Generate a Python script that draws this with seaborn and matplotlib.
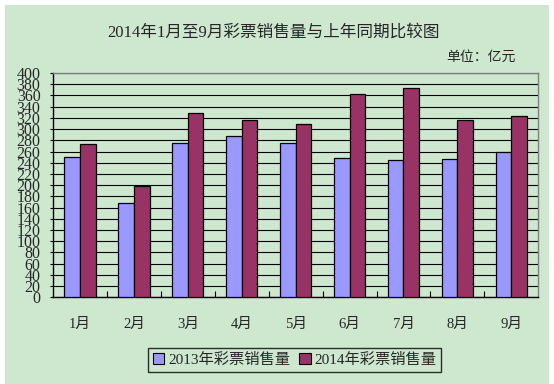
import numpy as np
import pandas as pd
import matplotlib
matplotlib.use("Agg")
import matplotlib.pyplot as plt
from matplotlib.patches import Rectangle
from matplotlib.ticker import MultipleLocator, FixedLocator
import seaborn as sns

# data (亿元)
months = ["1月", "2月", "3月", "4月", "5月", "6月", "7月", "8月", "9月"]
sales_2013 = [250, 169, 275, 287, 275, 248, 245, 246, 259]
sales_2014 = [273, 199, 329, 316, 309, 362, 373, 316, 323]
series_names = ["2013年彩票销售量", "2014年彩票销售量"]
series_colors = ["#9999FF", "#993366"]

bg_green = "#CDE8CF"

sns.set_style("white")
plt.rcParams['font.family'] = ['Liberation Serif', 'Noto Sans CJK SC']

df = pd.DataFrame({
    "month": months * 2,
    "sales": sales_2013 + sales_2014,
    "series": [series_names[0]] * len(months) + [series_names[1]] * len(months),
})

fig = plt.figure(figsize=(5.54, 3.84), dpi=100, facecolor="white")
# green chart-area background with a thin white margin at top/left
fig.patches.append(Rectangle((5 / 554, 0), 544 / 554, 379 / 384,
                             transform=fig.transFigure, facecolor=bg_green,
                             edgecolor="none", zorder=-10))

ax = fig.add_axes([53 / 554, (384 - 297.3) / 384, 485.3 / 554, 224.3 / 384])
ax.set_facecolor(bg_green)

sns.barplot(data=df, x="month", y="sales", hue="series", order=months,
            hue_order=series_names, palette=series_colors, width=0.58,
            edgecolor="black", linewidth=0.9, saturation=1, ax=ax, zorder=3)

ax.set_ylim(0, 400)
ax.set_xlim(-0.5, len(months) - 0.5)
ax.yaxis.set_major_locator(MultipleLocator(20))
ax.yaxis.grid(True, color="black", linewidth=0.8, zorder=1)
ax.set_axisbelow(True)

ax.set_xlabel("")
ax.set_ylabel("")

# tick marks between the categories, pointing inward
ax.xaxis.set_minor_locator(FixedLocator(np.arange(0.5, len(months) - 1, 1.0)))
ax.tick_params(axis="x", which="minor", direction="in", length=4, width=0.8,
               color="black", bottom=True)
ax.tick_params(axis="x", which="major", length=0, pad=15, labelsize=10.5)
ax.tick_params(axis="y", which="major", direction="out", length=2, width=0.8,
               color="black", left=True, pad=7, labelsize=11.5)
for lbl in ax.get_yticklabels():
    lbl.set_fontfamily(['Liberation Serif'])

for side in ["left", "bottom"]:
    ax.spines[side].set_color("black")
    ax.spines[side].set_linewidth(1.0)
for side in ["top", "right"]:
    ax.spines[side].set_visible(True)
    ax.spines[side].set_color("#808080")
    ax.spines[side].set_linewidth(1.0)

ax.get_legend().remove()
handles = [Rectangle((0, 0), 1, 1, facecolor=c, edgecolor="black", linewidth=0.8)
           for c in series_colors]
leg = fig.legend(handles, series_names, loc="center", bbox_to_anchor=(0.532, 0.0625),
                 ncol=2, frameon=True, fancybox=False, fontsize=11,
                 handlelength=0.75, handleheight=0.75, handletextpad=0.25,
                 columnspacing=0.6, borderpad=0.3, borderaxespad=0)
leg.get_frame().set_edgecolor("black")
leg.get_frame().set_facecolor(bg_green)
leg.get_frame().set_linewidth(1.0)

fig.text(274 / 554, 1 - 33 / 384, "2014年1月至9月彩票销售量与上年同期比较图",
         ha="center", va="center", fontsize=12)
fig.text(516 / 554, 1 - 57 / 384, "单位：亿元", ha="right", va="center", fontsize=10)

fig.savefig("out.png", dpi=100, facecolor=fig.get_facecolor())
